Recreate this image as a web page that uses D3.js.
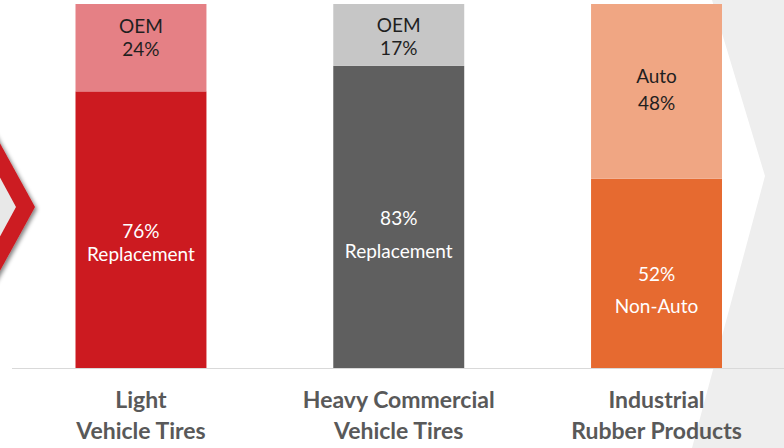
<!DOCTYPE html>
<html>
<head>
<meta charset="utf-8">
<script src="https://cdn.jsdelivr.net/npm/d3@7"></script>
<style>
  html, body { margin: 0; padding: 0; background: #ffffff; }
  svg { display: block; }
</style>
</head>
<body>
<svg id="chart" width="784" height="448"></svg>
<script>
// Business segments and their revenue split (percent)
const categories = ["Light Vehicle Tires", "Heavy Commercial Vehicle Tires", "Industrial Rubber Products"];
const categoryLines = [["Light", "Vehicle Tires"], ["Heavy Commercial", "Vehicle Tires"], ["Industrial", "Rubber Products"]];
const bottomNames = ["Replacement", "Replacement", "Non-Auto"];
const bottomValues = [76, 83, 52];
const topNames = ["OEM", "OEM", "Auto"];
const topValues = [24, 17, 48];

// Styling per bar
const bottomColors = ["#cc1a20", "#5f5f5f", "#e66a30"];
const topColors = ["#e58085", "#c6c6c6", "#f0a683"];
const bottomText = ["#ffffff", "#ffffff", "#ffffff"];
const topText = ["#1f1f1f", "#1f1f1f", "#1f1f1f"];
// label block layout: first baseline offset from segment centre, and line gap
const topLabelLayout = [{ dy: -15, gap: 23 }, { dy: -3, gap: 23 }, { dy: -8.5, gap: 27 }];
const bottomLabelLayout = [{ dy: 8, gap: 23 }, { dy: 8, gap: 33 }, { dy: 7.5, gap: 32 }];

const svg = d3.select("#chart");
const W = 784, H = 448;
const FONT = "Lato, 'Open Sans', sans-serif";

// Background decoration: gray arrow on the right with a white notch
svg.append("polygon")
  .attr("points", [[712, 0], [784, 0], [784, 448], [692, 448], [765, 176]].map(p => p.join(",")).join(" "))
  .attr("fill", "#eeeeee");

// Left red chevron with drop shadow
const defs = svg.append("defs");
const f = defs.append("filter").attr("id", "shadow").attr("x", "-50%").attr("y", "-50%").attr("width", "200%").attr("height", "200%");
f.append("feGaussianBlur").attr("in", "SourceAlpha").attr("stdDeviation", 2).attr("result", "b");
f.append("feOffset").attr("in", "b").attr("dx", 2).attr("dy", 2).attr("result", "o");
f.append("feComponentTransfer").attr("in", "o").attr("result", "s")
  .append("feFuncA").attr("type", "linear").attr("slope", 0.5);
const fm = f.append("feMerge");
fm.append("feMergeNode").attr("in", "s");
fm.append("feMergeNode").attr("in", "SourceGraphic");

const chev = svg.append("g").attr("filter", "url(#shadow)");
chev.append("polygon")
  .attr("points", [[-10, 125], [35, 207], [-10, 289]].map(p => p.join(",")).join(" "))
  .attr("fill", "#cc1a20");
chev.append("polygon")
  .attr("points", [[-10, 159], [16, 207], [-10, 255]].map(p => p.join(",")).join(" "))
  .attr("fill", "#e8e8e8");

// Scales
const x = d3.scaleBand().domain(categories).range([75.5, 722]).paddingInner(0.492).paddingOuter(0);
const y = d3.scaleLinear().domain([0, 100]).range([368, 4]);

// Baseline rule
svg.append("line")
  .attr("x1", 12).attr("x2", W).attr("y1", 368.5).attr("y2", 368.5)
  .attr("stroke", "#d9d9d9").attr("stroke-width", 1);

const bars = svg.append("g");
categories.forEach((c, i) => {
  const x0 = x(c), bw = x.bandwidth(), cx = x0 + bw / 2;
  const yb = y(bottomValues[i]);
  const yt = y(bottomValues[i] + topValues[i]);
  bars.append("rect").attr("x", x0).attr("width", bw)
    .attr("y", yb).attr("height", y(0) - yb).attr("fill", bottomColors[i]);
  bars.append("rect").attr("x", x0).attr("width", bw)
    .attr("y", yt).attr("height", yb - yt).attr("fill", topColors[i]);

  // top segment label: name, then value
  const tc = (yt + yb) / 2, tl = topLabelLayout[i];
  const tt = bars.append("text").attr("text-anchor", "middle")
    .attr("font-family", FONT).attr("font-size", 19)
    .attr("fill", topText[i]);
  tt.append("tspan").attr("x", cx).attr("y", tc + tl.dy).text(topNames[i]);
  tt.append("tspan").attr("x", cx).attr("y", tc + tl.dy + tl.gap).text(topValues[i] + "%");

  // bottom segment label: value, then name
  const bc = (yb + y(0)) / 2, bl = bottomLabelLayout[i];
  const bt = bars.append("text").attr("text-anchor", "middle")
    .attr("font-family", FONT).attr("font-size", 19)
    .attr("fill", bottomText[i]);
  bt.append("tspan").attr("x", cx).attr("y", bc + bl.dy).text(bottomValues[i] + "%");
  bt.append("tspan").attr("x", cx).attr("y", bc + bl.dy + bl.gap).text(bottomNames[i]);

  // category label
  const ct = svg.append("text").attr("text-anchor", "middle")
    .attr("font-family", FONT).attr("font-weight", "bold")
    .attr("font-size", 23).attr("fill", "#595959");
  categoryLines[i].forEach((line, k) => {
    ct.append("tspan").attr("x", cx).attr("y", 408 + k * 31).text(line);
  });
});
</script>
</body>
</html>
